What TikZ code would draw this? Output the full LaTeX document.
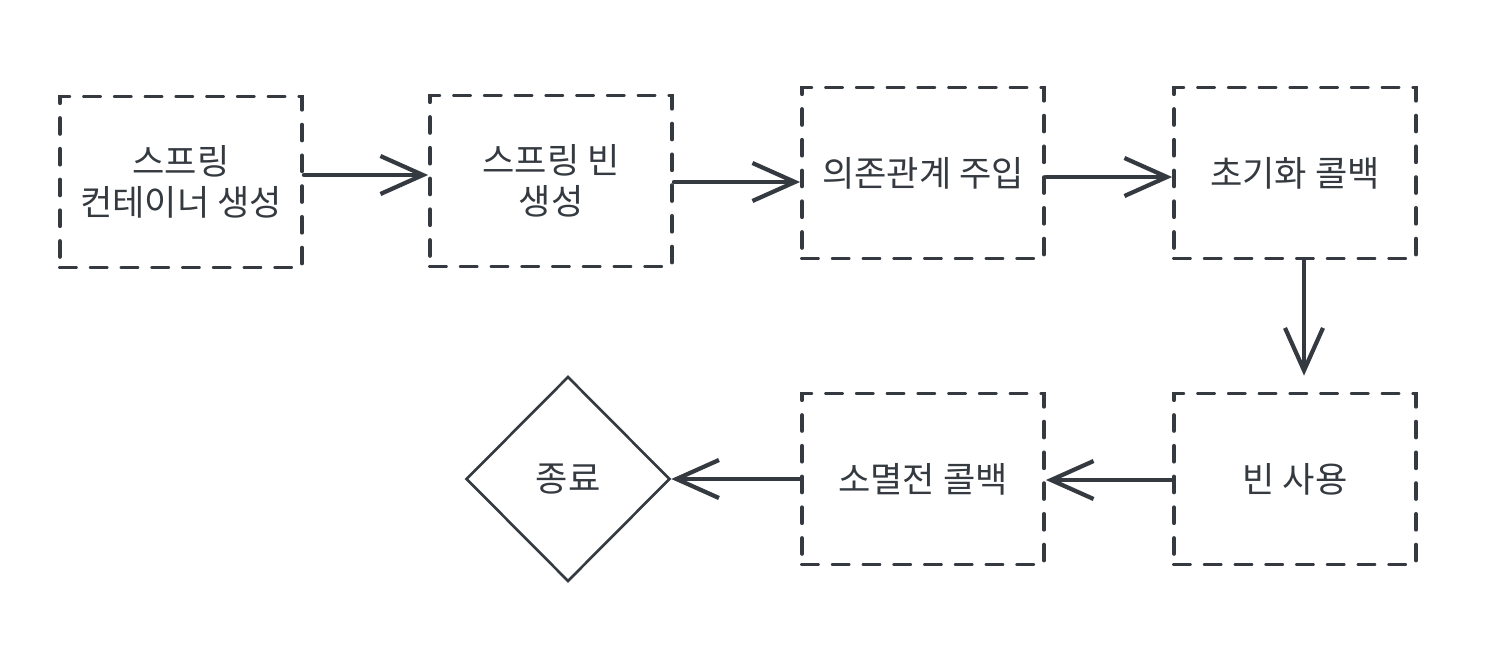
\documentclass[tikz,border=0pt]{standalone}
\usepackage{fontspec}
\setmainfont{Noto Sans CJK KR}
\usetikzlibrary{arrows.meta,shapes.geometric,positioning}
\definecolor{inkgray}{HTML}{343A40}

\begin{document}
\begin{tikzpicture}[x=0.02cm, y=-0.02cm,
  stepbox/.style={draw=inkgray, line width=2.2pt, dash pattern=on 9pt off 8.5pt, line cap=round,
    minimum width=4.84cm, minimum height=3.42cm, align=center, text=inkgray,
    font=\fontsize{20}{23}\selectfont},
  endnode/.style={draw=inkgray, line width=1.5pt, diamond, aspect=1, inner sep=0pt,
    minimum width=4.08cm, minimum height=4.1cm, text=inkgray, font=\fontsize{20}{23}\selectfont},
  arr/.style={draw=inkgray, line width=2.4pt, line cap=round,
    -{Straight Barb[length=0.85cm, width=0.76cm, line width=2.4pt]}}]
\useasboundingbox (0,0) rectangle (1511,653);

\node[stepbox] (container) at (181,182) {스프링\\컨테이너 생성};
\node[stepbox] (bean) at (551,181) {스프링 빈\\생성};
\node[stepbox] (inject) at (923,173) {의존관계 주입};
\node[stepbox] (init) at (1295,173) {초기화 콜백};
\node[stepbox] (use) at (1295,479) {빈 사용};
\node[stepbox] (destroy) at (923,479) {소멸전 콜백};
\node[endnode] (done) at (568,479) {종료};

\draw[arr] ([yshift=0.14cm]container.east) -- ([yshift=0.14cm]container.east -| bean.west);
\draw[arr] ([yshift=-0.02cm]bean.east) -- ([yshift=-0.02cm]bean.east -| inject.west);
\draw[arr] ([yshift=-0.08cm]inject.east) -- ([yshift=-0.08cm]init.west);
\draw[arr] ([xshift=0.18cm]init.south) -- ([xshift=0.18cm,yshift=0.32cm]use.north);
\draw[arr] ([yshift=-0.02cm]use.west) -- ([yshift=-0.02cm]destroy.east);
\draw[arr] (destroy.west) -- (done.east);
\end{tikzpicture}
\end{document}
